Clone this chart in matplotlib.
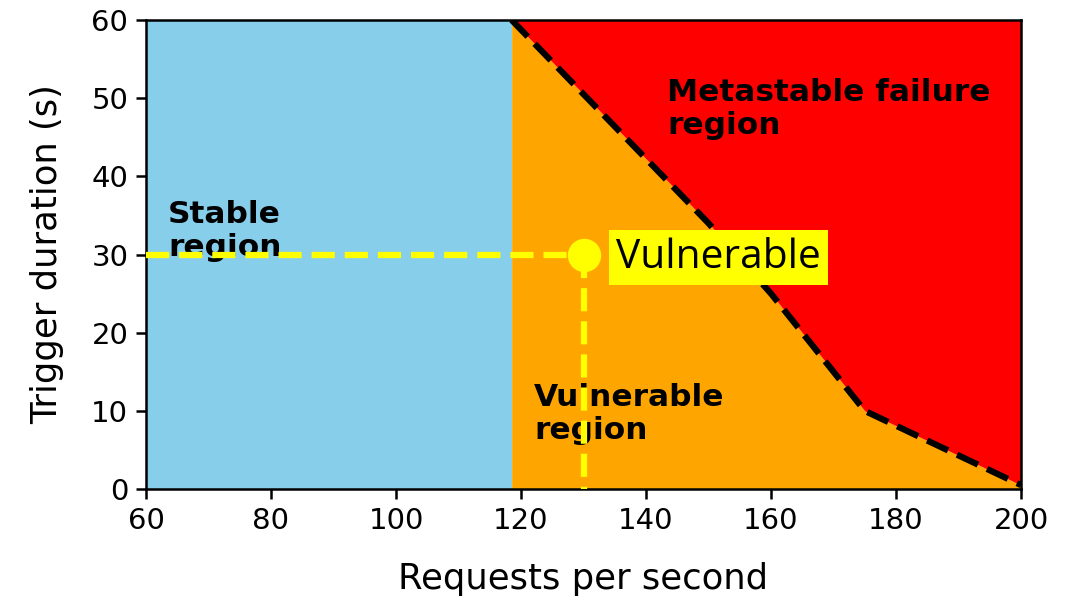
import numpy as np
import matplotlib
matplotlib.use("Agg")
import matplotlib.pyplot as plt

# boundary between vulnerable and metastable failure regions
boundary_rps = [118.5, 150, 160, 175, 200]
boundary_dur = [60, 34, 25, 10, 0.5]

stable_limit = 118.5
point_rps = 130
point_dur = 30

x_ticks = [60, 80, 100, 120, 140, 160, 180, 200]
y_ticks = [0, 10, 20, 30, 40, 50, 60]

fig = plt.figure(figsize=(1069 / 150, 597 / 150), dpi=150)
ax = fig.add_axes([146 / 1069, 1 - 489 / 597, (1021 - 146) / 1069, (489 - 20) / 597])

ax.axvspan(60, stable_limit, color="skyblue", lw=0)
ax.fill_between(boundary_rps, 0, boundary_dur, color="orange", lw=0)
ax.fill_between(boundary_rps, boundary_dur, 60, color="red", lw=0)
ax.plot(boundary_rps, boundary_dur, "k--", lw=3, zorder=3)

ax.text(63.5, 33.0, "Stable\nregion", fontsize=15, fontweight="bold",
        ha="left", va="center")
ax.text(143.4, 48.6, "Metastable failure\nregion", fontsize=15, fontweight="bold",
        ha="left", va="center")
ax.text(122.1, 9.6, "Vulnerable\nregion", fontsize=15, fontweight="bold",
        ha="left", va="center")

ax.plot([60, point_rps], [point_dur, point_dur], "--", color="yellow", lw=3, zorder=4,
        clip_on=False)
ax.plot([point_rps, point_rps], [point_dur, 0], "--", color="yellow", lw=3, zorder=4,
        clip_on=False)
ax.plot(point_rps, point_dur, "o", color="yellow", markersize=15, zorder=5)
ax.text(135.2, 29.6, "Vulnerable", fontsize=19.5, family="Open Sans", ha="left", va="center",
        bbox=dict(facecolor="yellow", edgecolor="none", pad=3.5), zorder=6)

ax.set_xlim(60, 200)
ax.set_ylim(0, 60)
ax.set_xticks(x_ticks)
ax.set_yticks(y_ticks)
ax.tick_params(labelsize=14, width=1.2, length=5)
for s in ax.spines.values():
    s.set_linewidth(1.2)
ax.set_xlabel("Requests per second", fontsize=17, labelpad=13)
ax.set_ylabel("Trigger duration (s)", fontsize=17, labelpad=13)

fig.savefig("out.png", dpi=150)
